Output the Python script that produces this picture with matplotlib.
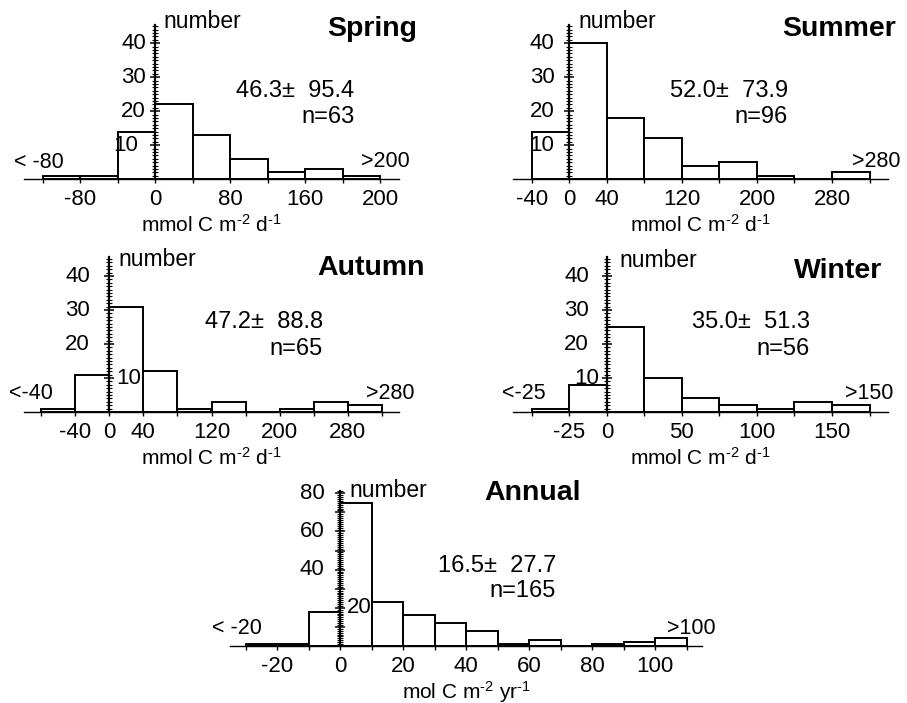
import numpy as np
import matplotlib
matplotlib.use('Agg')
import matplotlib.pyplot as plt
from matplotlib.ticker import FixedLocator

plt.rcParams['font.family'] = ['Liberation Sans', 'DejaVu Sans']
plt.rcParams['mathtext.fontset'] = 'custom'
plt.rcParams['mathtext.rm'] = 'Liberation Sans'
plt.rcParams['mathtext.it'] = 'Liberation Sans:italic'
plt.rcParams['mathtext.bf'] = 'Liberation Sans:bold'

W, H = 907, 703

# --- data ---
spring_edges = [-120, -80, -40, 0, 40, 80, 120, 160, 200, 240]
spring_counts = [1, 1, 14, 22, 13, 6, 2, 3, 1]
spring_xticks = [-80, 0, 80, 160, 240]
spring_xticklabels = ['-80', '0', '80', '160', '200']
spring_stats = ['46.3\u00b1  95.4', 'n=63']
spring_ends = ['< -80', '>200']

summer_edges = [-40, 0, 40, 80, 120, 160, 200, 240, 280, 320]
summer_counts = [14, 40, 18, 12, 4, 5, 1, 0, 2]
summer_xticks = [-40, 0, 40, 120, 200, 280]
summer_xticklabels = ['-40', '0', '40', '120', '200', '280']
summer_stats = ['52.0\u00b1  73.9', 'n=96']
summer_ends = [None, '>280']

autumn_edges = [-80, -40, 0, 40, 80, 120, 160, 200, 240, 280, 320]
autumn_counts = [1, 11, 31, 12, 1, 3, 0, 1, 3, 2]
autumn_xticks = [-40, 0, 40, 120, 200, 280]
autumn_xticklabels = ['-40', '0', '40', '120', '200', '280']
autumn_stats = ['47.2\u00b1  88.8', 'n=65']
autumn_ends = ['<-40', '>280']

winter_edges = [-50, -25, 0, 25, 50, 75, 100, 125, 150, 175]
winter_counts = [1, 8, 25, 10, 4, 2, 1, 3, 2]
winter_xticks = [-25, 0, 50, 100, 150]
winter_xticklabels = ['-25', '0', '50', '100', '150']
winter_stats = ['35.0\u00b1  51.3', 'n=56']
winter_ends = ['<-25', '>150']

annual_edges = [-30, -20, -10, 0, 10, 20, 30, 40, 50, 60, 70, 80, 90, 100, 110]
annual_counts = [1, 1, 18, 75, 23, 16, 12, 8, 1, 3, 0, 1, 2, 4]
annual_xticks = [-20, 0, 20, 40, 60, 80, 100]
annual_xticklabels = ['-20', '0', '20', '40', '60', '80', '100']
annual_stats = ['16.5\u00b1  27.7', 'n=165']
annual_ends = ['< -20', '>100']

season_yticks = [10, 20, 30, 40]
annual_yticks = [20, 40, 60, 80]
titles = ['Spring', 'Summer', 'Autumn', 'Winter', 'Annual']
daily_unit = 'mmol C m$^{\u2010\\mathregular{2}}$ d$^{\u2010\\mathregular{1}}$'
annual_unit = 'mol C m$^{\u2010\\mathregular{2}}$ yr$^{\u2010\\mathregular{1}}$'


def px(x, y):
    return x / W, 1 - y / H


# layout per panel (pixels measured on the reference)
panels = [
    dict(edges=spring_edges, counts=spring_counts, xt=spring_xticks, xtl=spring_xticklabels,
         stats=spring_stats, ends=spring_ends, yt=season_yticks, unit=daily_unit,
         x0=24, x1=399, base=179.3, ppu=3.4, xlim=(-140, 260), ytop=45.5, ystep=1,
         gap=9.3, special={10: -17.5}, lpad=3,
         title=(416.7, 36), number=(163.3, 28.3), st=(354.3, 96.7, 122.7),
         endpos=[(38.5, 168.3), (385, 167.3)]),
    dict(edges=summer_edges, counts=summer_counts, xt=summer_xticks, xtl=summer_xticklabels,
         stats=summer_stats, ends=summer_ends, yt=season_yticks, unit=daily_unit,
         x0=513, x1=888.3, base=179.3, ppu=3.4, xlim=(-60, 340), ytop=45.5, ystep=1,
         gap=14.7, special={}, lpad=3,
         title=(895.7, 36), number=(578.3, 28.3), st=(787.7, 96.7, 123.3),
         endpos=[None, (876.5, 166.7)]),
    dict(edges=autumn_edges, counts=autumn_counts, xt=autumn_xticks, xtl=autumn_xticklabels,
         stats=autumn_stats, ends=autumn_ends, yt=season_yticks, unit=daily_unit,
         x0=24, x1=399, base=412, ppu=3.4, xlim=(-100, 340), ytop=45.5, ystep=1,
         gap=19.3, special={10: 7}, lpad=3,
         title=(425, 275), number=(118.3, 266), st=(322.7, 328.3, 355),
         endpos=[(31.2, 399.3), (390.5, 399.3)]),
    dict(edges=winter_edges, counts=winter_counts, xt=winter_xticks, xtl=winter_xticklabels,
         stats=winter_stats, ends=winter_ends, yt=season_yticks, unit=daily_unit,
         x0=513, x1=888.3, base=412, ppu=3.4, xlim=(-62.5, 187.5), ytop=45.5, ystep=1,
         gap=18, special={10: -8}, lpad=3,
         title=(882.3, 278.3), number=(619.3, 266.7), st=(810, 328.3, 355),
         endpos=[(523.5, 399.3), (869, 399.3)]),
    dict(edges=annual_edges, counts=annual_counts, xt=annual_xticks, xtl=annual_xticklabels,
         stats=annual_stats, ends=annual_ends, yt=annual_yticks, unit=annual_unit,
         x0=230, x1=702.3, base=646, ppu=1.909, xlim=(-35, 115), ytop=81, ystep=1,
         gap=15.7, special={20: 7}, lpad=1.5,
         title=(581, 500), number=(349, 496.7), st=(556, 571.7, 596.7),
         endpos=[(237.2, 634), (691.7, 634)]),
]

fig = plt.figure(figsize=(W / 100, H / 100), dpi=100)

for p, title in zip(panels, titles):
    rect = [p['x0'] / W, (H - p['base']) / H, (p['x1'] - p['x0']) / W, p['ytop'] * p['ppu'] / H]
    ax = fig.add_axes(rect)
    ax.patch.set_alpha(0)
    edges = np.array(p['edges'])
    ax.bar(edges[:-1], p['counts'], width=np.diff(edges), align='edge',
           facecolor='white', edgecolor='black', linewidth=1.4, zorder=1)
    ax.set_xlim(*p['xlim'])
    ax.set_ylim(0, p['ytop'])

    for s in ['top', 'right']:
        ax.spines[s].set_visible(False)
    ax.spines['bottom'].set_linewidth(1.0)
    ax.spines['left'].set_position(('data', 0))
    ax.spines['left'].set_linewidth(1.6)
    ax.spines['left'].set_zorder(3)

    # x axis: ticks at every bin edge, labels at a few
    ax.set_xticks(p['xt'], p['xtl'], fontsize=16)
    ax.xaxis.set_minor_locator(FixedLocator(p['edges']))
    ax.tick_params(axis='x', which='both', direction='out', length=3, width=1, pad=4)
    ax.set_xlabel(p['unit'], fontsize=15, labelpad=p['lpad'])

    # y axis: dense ruler-like ticks on the zero line
    ymax = int(p['ytop'])
    ax.yaxis.set_major_locator(FixedLocator(np.arange(0, ymax + 1, 10)))
    ax.yaxis.set_minor_locator(FixedLocator(np.arange(0, ymax + 1, p['ystep'])))
    ax.tick_params(axis='y', which='major', direction='inout', length=7, width=1.1, labelleft=False)
    ax.tick_params(axis='y', which='minor', direction='inout', length=4.5, width=0.8)

    for v in p['yt']:
        dx = p['special'].get(v, -p['gap'])
        ax.annotate(str(v), xy=(0, v), xytext=(dx, 0), textcoords='offset pixels',
                    ha='left' if dx > 0 else 'right', va='center', fontsize=16, zorder=4)

    tx, ty = p['title']
    fig.text(*px(tx, ty), title, ha='right', va='baseline', fontsize=20.5, fontweight='bold')
    nx, ny = p['number']
    fig.text(*px(nx, ny), 'number', ha='left', va='baseline', fontsize=16.5)
    sx, s1, s2 = p['st']
    fig.text(*px(sx, s1), p['stats'][0], ha='right', va='baseline', fontsize=17)
    fig.text(*px(sx, s2), p['stats'][1], ha='right', va='baseline', fontsize=17)
    for lab, pos in zip(p['ends'], p['endpos']):
        if lab is None:
            continue
        fig.text(*px(*pos), lab, ha='center', va='baseline', fontsize=15.5)

fig.savefig('out.png', dpi=100, facecolor='white')
